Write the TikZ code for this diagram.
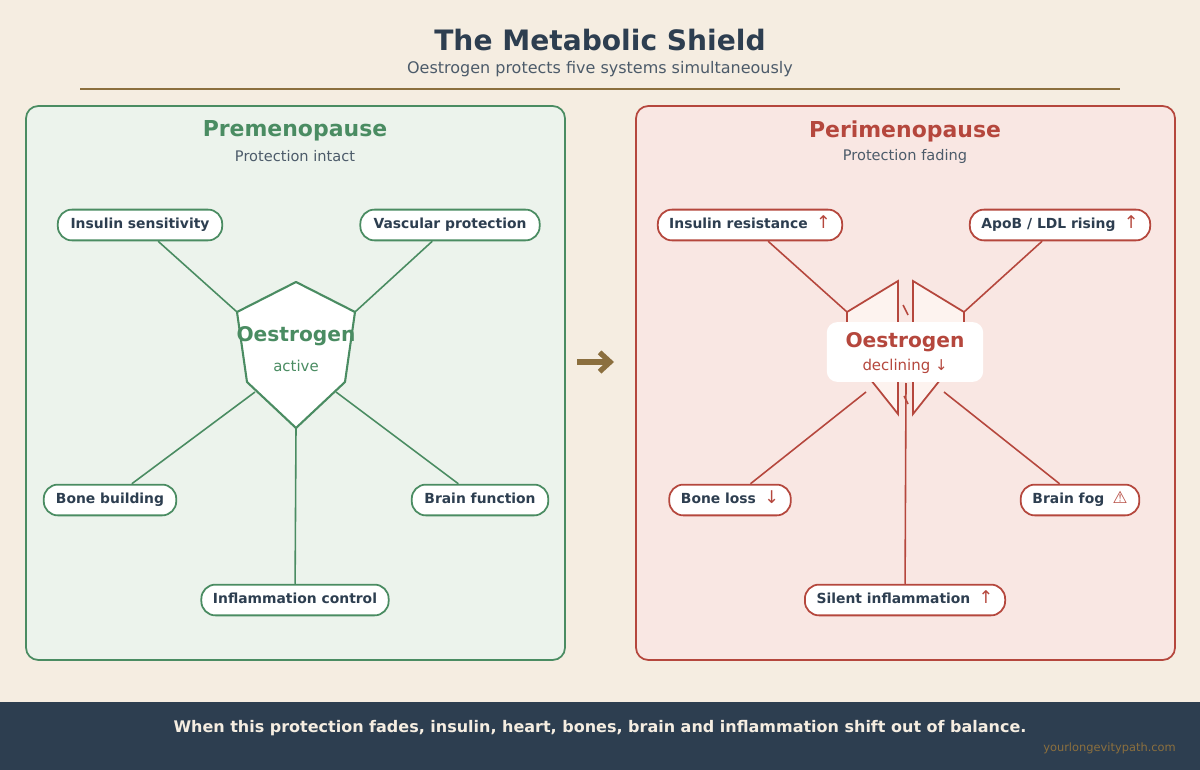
\documentclass[tikz,border=0pt]{standalone}
\usepackage{fontspec}
\setmainfont{DejaVu Sans}
\usetikzlibrary{arrows.meta}
\definecolor{bgcream}{HTML}{F5EDE1}
\definecolor{navy}{HTML}{2D3E50}
\definecolor{gold}{HTML}{8B6F3E}
\definecolor{sage}{HTML}{4A8C62}
\definecolor{sagefill}{HTML}{ECF3EC}
\definecolor{rust}{HTML}{B5473D}
\definecolor{rustfill}{HTML}{F9E7E3}
\definecolor{shieldfill}{HTML}{FDF3EF}
\tikzset{
  pill/.style={draw=#1, line width=1pt, fill=white, rounded corners=8pt,
    minimum height=17.5pt, inner xsep=5pt, text height=6pt, text depth=1.6pt,
    font=\bfseries\fontsize{7.9}{9}\selectfont, text=navy},
  link/.style={draw=#1, line width=0.9pt},
  panel/.style={draw=#1, line width=1pt, rounded corners=7pt}
}
\newcommand{\up}{\hspace{0.6em}\textcolor{rust}{\mdseries\fontsize{10}{10}\selectfont↑}}
\newcommand{\down}{\hspace{0.6em}\textcolor{rust}{\mdseries\fontsize{10}{10}\selectfont↓}}
\begin{document}
\begin{tikzpicture}[x=0.02cm,y=-0.02cm]
\fill[bgcream] (0,0) rectangle (1200,770);
% header
\node (title) at (600,40) {\bfseries\fontsize{16}{18}\selectfont\textcolor{navy}{The Metabolic Shield}};
\node (subtitle) at (600,69) {\fontsize{9.1}{11}\selectfont\textcolor{navy!85}{Oestrogen protects five systems simultaneously}};
\draw[gold, line width=0.9pt] (80,89) -- (1120,89);
% panels
\draw[panel=sage, fill=sagefill] (26,106) rectangle (565,660);
\draw[panel=rust, fill=rustfill] (636,106) rectangle (1175,660);
\node (prehead) at (295,131) {\bfseries\fontsize{12.5}{14}\selectfont\textcolor{sage}{Premenopause}};
\node (presub) at (295,156) {\fontsize{8.3}{10}\selectfont\textcolor{navy!85}{Protection intact}};
\node (perihead) at (905,131) {\bfseries\fontsize{12.5}{14}\selectfont\textcolor{rust}{Perimenopause}};
\node (perisub) at (905,156) {\fontsize{8.3}{10}\selectfont\textcolor{navy!85}{Protection fading}};

% left shield
\coordinate (lt) at (296,282);
\coordinate (lul) at (237,312);
\coordinate (ull) at (247,382);
\coordinate (lb) at (296,428);
\coordinate (lur) at (355,312);
\coordinate (lrl) at (345,382);
\coordinate (lbl) at (255,392);
\coordinate (lbr) at (336,392);
\node[pill=sage, minimum width=165*0.567pt] (insl) at (140,225) {Insulin sensitivity};
\node[pill=sage, minimum width=180*0.567pt] (vasl) at (450,225) {Vascular protection};
\node[pill=sage, minimum width=133*0.567pt] (bonl) at (110,500) {Bone building};
\node[pill=sage, minimum width=137*0.567pt] (brnl) at (480,500) {Brain function};
\node[pill=sage, minimum width=188*0.567pt] (infl) at (295,600) {Inflammation control};
\draw[link=sage] (insl) -- (lul);
\draw[link=sage] (vasl) -- (lur);
\draw[link=sage] (bonl) -- (lbl);
\draw[link=sage] (brnl) -- (lbr);
\draw[link=sage] (infl) -- (lb);
\draw[sage, line width=1.2pt, fill=white, line join=round] (lt) -- (lur) -- (lrl) -- (lb) -- (ull) -- (lul) -- cycle;
\node (oestl) at (296,336) {\bfseries\fontsize{11.5}{13}\selectfont\textcolor{sage}{Oestrogen}};
\node (actl) at (296,366) {\fontsize{8.5}{10}\selectfont\textcolor{sage}{active}};

% centre arrow
\coordinate (arra) at (577,362);
\coordinate (arrb) at (614,362);
\draw[gold, line width=3pt, -{Straight Barb[length=6pt,width=11pt]}] (arra) -- (arrb);

% right shield
\coordinate (rlt) at (898,281);
\coordinate (rlo) at (847,312);
\coordinate (rll) at (847,350);
\coordinate (rlb) at (898,414);
\coordinate (rrt) at (913,281);
\coordinate (rro) at (964,312);
\coordinate (rrl) at (964,350);
\coordinate (rrb) at (913,414);
\coordinate (rbl) at (866,392);
\coordinate (rbr) at (944,392);
\coordinate (rcr) at (906,383);
\node[pill=rust, minimum width=185*0.567pt] (insr) at (750,225) {Insulin resistance\up};
\node[pill=rust, minimum width=181*0.567pt] (apor) at (1060,225) {ApoB / LDL rising\up};
\node[pill=rust, minimum width=122*0.567pt] (bonr) at (730,500) {Bone loss\down};
\node[pill=rust, minimum width=119*0.567pt] (brnr) at (1080,500) {Brain fog\hspace{0.6em}\textcolor{rust}{\mdseries\fontsize{9.5}{10}\selectfont⚠}};
\node[pill=rust, minimum width=201*0.567pt] (infr) at (905,600) {Silent inflammation\up};
\draw[link=rust] (insr) -- (rlo);
\draw[link=rust] (apor) -- (rro);
\draw[link=rust] (bonr) -- (rbl);
\draw[link=rust] (brnr) -- (rbr);
\draw[rust, line width=1pt, fill=shieldfill] (rlt) -- (rlo) -- (rll) -- (rlb) -- cycle;
\draw[rust, line width=1pt, fill=shieldfill] (rrt) -- (rro) -- (rrl) -- (rrb) -- cycle;
\draw[link=rust] (903,305) -- (908,315);
\draw[link=rust] (904,396) -- (908,404);
\draw[link=rust] (infr) -- (rcr);
\node[fill=white, rounded corners=6pt, minimum width=157*0.567pt, minimum height=60*0.567pt] (oestbox) at (905,352) {};
\node (oestr) at (905,342) {\bfseries\fontsize{11.5}{13}\selectfont\textcolor{rust}{Oestrogen}};
\node (decl) at (905,366) {\fontsize{8.5}{10}\selectfont\textcolor{rust}{declining ↓}};

% footer
\fill[navy] (0,702) rectangle (1200,770);
\node (foot) at (600,728) {\bfseries\fontsize{9.1}{11}\selectfont\textcolor{bgcream}{When this protection fades, insulin, heart, bones, brain and inflammation shift out of balance.}};
\node[anchor=east] (url) at (1182,748) {\fontsize{6.5}{8}\selectfont\textcolor{gold}{yourlongevitypath.com}};
\end{tikzpicture}
\end{document}
